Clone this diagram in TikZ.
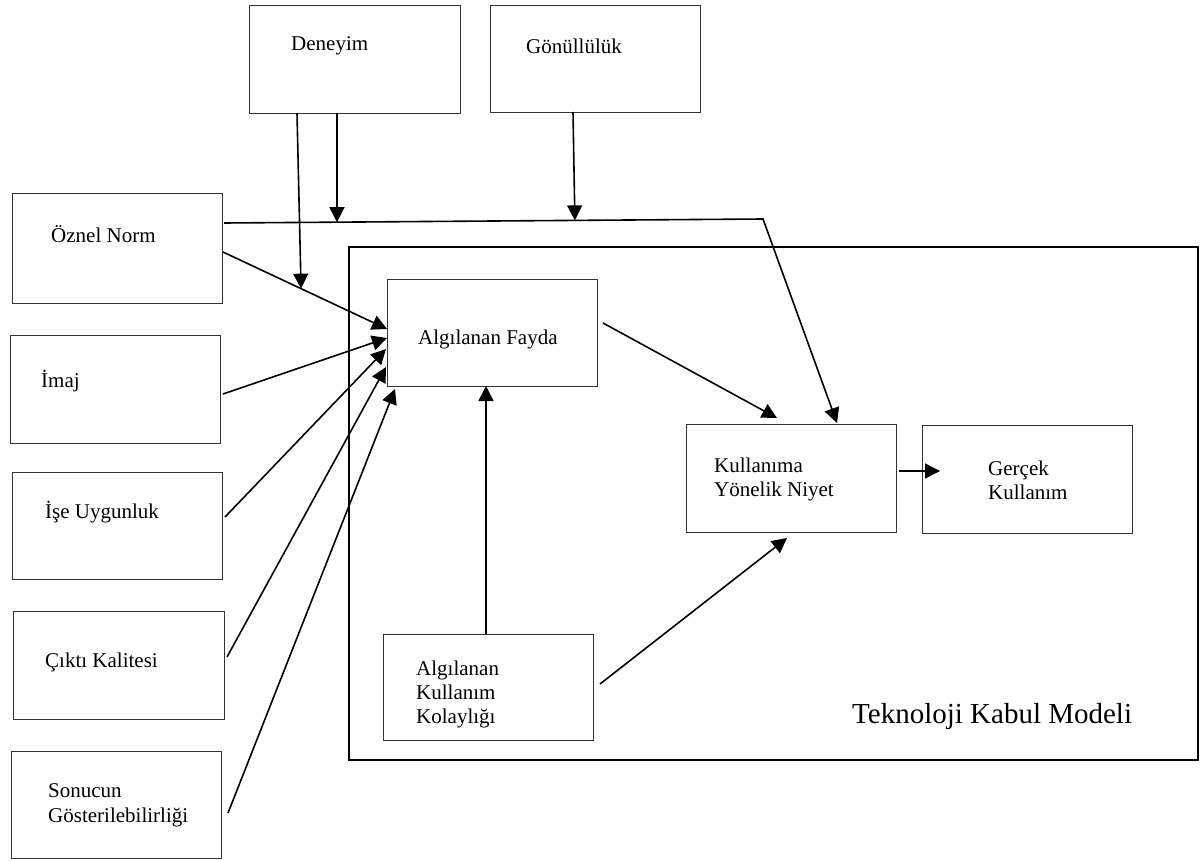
\documentclass[tikz,border=0pt]{standalone}
\usepackage{fontspec}
\setmainfont{Liberation Serif}
\usetikzlibrary{arrows.meta,calc}
\begin{document}
\begin{tikzpicture}[x=1bp,y=-1bp,
 box/.style={draw=black!80, line width=1bp, inner sep=0pt, outer sep=0pt, anchor=north west, rectangle},
 lbl/.style={inner sep=0pt, anchor=base west, font=\fontsize{21bp}{24bp}\selectfont},
 arr/.style={line width=1.6bp, -{Triangle[length=15bp,width=15bp]}}]
\useasboundingbox (0,0) rectangle (1203,861);
\fill[white] (0,0) rectangle (1203,861);
% boxes
\node[box, minimum width=211bp, minimum height=108bp] (den) at (249,5) {};
\node[box, minimum width=210bp, minimum height=107bp] (gon) at (490,5) {};
\node[box, minimum width=210bp, minimum height=110bp] (oz) at (12,193) {};
\node[box, minimum width=210bp, minimum height=108bp] (imaj) at (10,335) {};
\node[box, minimum width=210bp, minimum height=107bp] (ise) at (12,472) {};
\node[box, minimum width=211bp, minimum height=108bp] (cikti) at (13,611) {};
\node[box, minimum width=210bp, minimum height=107bp] (son) at (11,751) {};
\node[box, draw=black, line width=2.2bp, minimum width=849bp, minimum height=513bp] (tkm) at (349,247) {};
\node[box, minimum width=210bp, minimum height=107bp] (fay) at (387,279) {};
\node[box, minimum width=210bp, minimum height=108bp] (niy) at (686,424) {};
\node[box, minimum width=210bp, minimum height=108bp] (ger) at (922,425) {};
\node[box, minimum width=210bp, minimum height=106bp] (kol) at (383,634) {};
% labels
\node[lbl] (tden) at (291,50) {Deneyim};
\node[lbl] (tgon) at (526,53) {Gönüllülük};
\node[lbl] (toz) at (51,242) {Öznel Norm};
\node[lbl] (timaj) at (41,387) {İmaj};
\node[lbl] (tise) at (45,518) {İşe Uygunluk};
\node[lbl] (tcikti) at (45,667) {Çıktı Kalitesi};
\node[lbl] (tson1) at (48,797) {Sonucun};
\node[lbl] (tson2) at (48,822) {Gösterilebilirliği};
\node[lbl] (tfay) at (418,344) {Algılanan Fayda};
\node[lbl] (tniy1) at (714,472) {Kullanıma};
\node[lbl] (tniy2) at (714,496) {Yönelik Niyet};
\node[lbl] (tger1) at (988,475) {Gerçek};
\node[lbl] (tger2) at (988,499) {Kullanım};
\node[lbl] (tkol1) at (416,675) {Algılanan};
\node[lbl] (tkol2) at (416,699) {Kullanım};
\node[lbl] (tkol3) at (416,723) {Kolaylığı};
\node[lbl, font=\fontsize{29bp}{34bp}\selectfont] (ttkm) at (852,723) {Teknoloji Kabul Modeli};
% connectors
\coordinate (ozA) at ([shift={(1,59)}]oz.north east);
\coordinate (fayA) at ([shift={(0,50)}]fay.north west);
\draw[arr] (ozA) -- (fayA);
\coordinate (m1) at ($(ozA)!0.476!(fayA)$);
\draw[arr] ([shift={(48,0)}]den.south west) -- (m1);
\coordinate (ozB) at ([shift={(2,30)}]oz.north east);
\coordinate (bend) at ([shift={(77,-205)}]niy.north west);
\draw[arr] (ozB) -- (bend) -- ([shift={(151,-1)}]niy.north west);
\draw[arr] ([shift={(88,0)}]den.south west) -- ($(ozB)!0.2096!(bend)$);
\draw[arr] ([shift={(83,0)}]gon.south west) -- ($(ozB)!0.651!(bend)$);
\draw[arr] ([shift={(3,59)}]imaj.north east) -- ([shift={(0,59)}]fay.north west);
\draw[arr] ([shift={(3,45)}]ise.north east) -- ([shift={(-1,70)}]fay.north west);
\draw[arr] ([shift={(3,46)}]cikti.north east) -- ([shift={(-1,88)}]fay.north west);
\draw[arr] ([shift={(7,62)}]son.north east) -- ([shift={(8,3)}]fay.south west);
\draw[arr] ([shift={(103,0)}]kol.north west) -- ([shift={(99,0)}]fay.south west);
\draw[arr] ([shift={(7,50)}]kol.north east) -- ([shift={(101,6)}]niy.south west);
\draw[arr] ([shift={(6,44)}]fay.north east) -- ([shift={(91,-6)}]niy.north west);
\draw[arr] ([shift={(3,47)}]niy.north east) -- ([shift={(18,46)}]ger.north west);
\end{tikzpicture}
\end{document}
